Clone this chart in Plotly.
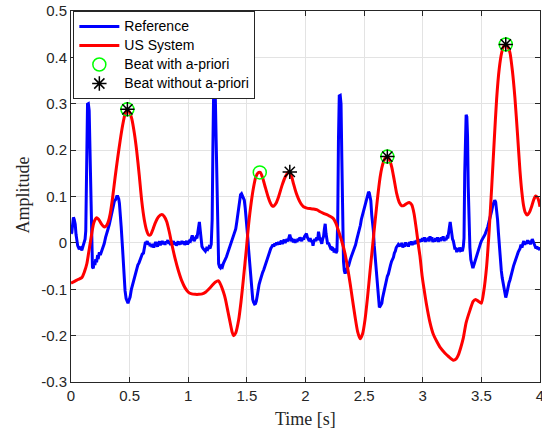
import plotly.graph_objects as go

# ---------------- data ----------------
ref_t = [0.000, 0.007, 0.014, 0.021, 0.028, 0.036, 0.043, 0.050, 0.057, 0.064, 0.071, 0.078, 0.085, 0.092, 0.099,
         0.106, 0.113, 0.120, 0.126, 0.132, 0.137, 0.141, 0.148, 0.155, 0.162, 0.169, 0.176, 0.183, 0.190, 0.197,
         0.204, 0.211, 0.218, 0.225, 0.234, 0.242, 0.250, 0.262, 0.272, 0.283, 0.295, 0.305, 0.316, 0.327, 0.338,
         0.348, 0.360, 0.370, 0.380, 0.390, 0.399, 0.407, 0.413, 0.419, 0.428, 0.439, 0.450, 0.461, 0.470, 0.478,
         0.486, 0.494, 0.504, 0.515, 0.525, 0.532, 0.540, 0.550, 0.560, 0.570, 0.580, 0.589, 0.598, 0.608, 0.618,
         0.627, 0.635, 0.642, 0.650, 0.658, 0.666, 0.674, 0.682, 0.690, 0.698, 0.706, 0.714, 0.722, 0.730, 0.738,
         0.746, 0.754, 0.762, 0.770, 0.778, 0.786, 0.794, 0.802, 0.810, 0.818, 0.826, 0.834, 0.842, 0.850, 0.858,
         0.866, 0.874, 0.882, 0.890, 0.898, 0.906, 0.914, 0.922, 0.930, 0.938, 0.946, 0.954, 0.962, 0.970, 0.978,
         0.986, 0.994, 1.002, 1.010, 1.018, 1.026, 1.034, 1.042, 1.050, 1.058, 1.066, 1.074, 1.082, 1.089, 1.095,
         1.101, 1.108, 1.117, 1.126, 1.136, 1.146, 1.156, 1.166, 1.176, 1.186, 1.196, 1.204, 1.210, 1.216, 1.224,
         1.231, 1.238, 1.245, 1.252, 1.259, 1.267, 1.275, 1.283, 1.291, 1.300, 1.308, 1.316, 1.326, 1.336, 1.346,
         1.356, 1.366, 1.376, 1.386, 1.396, 1.405, 1.414, 1.422, 1.430, 1.438, 1.446, 1.454, 1.462, 1.470, 1.478,
         1.486, 1.494, 1.501, 1.508, 1.515, 1.522, 1.529, 1.536, 1.543, 1.550, 1.557, 1.565, 1.573, 1.580, 1.588,
         1.596, 1.604, 1.614, 1.624, 1.634, 1.644, 1.654, 1.664, 1.674, 1.684, 1.694, 1.704, 1.714, 1.722, 1.730,
         1.738, 1.746, 1.754, 1.762, 1.770, 1.778, 1.786, 1.794, 1.802, 1.810, 1.818, 1.826, 1.834, 1.842, 1.850,
         1.858, 1.866, 1.872, 1.880, 1.888, 1.896, 1.904, 1.912, 1.920, 1.928, 1.936, 1.944, 1.952, 1.960, 1.968,
         1.976, 1.984, 1.992, 2.000, 2.008, 2.016, 2.024, 2.032, 2.040, 2.048, 2.056, 2.064, 2.072, 2.080, 2.088,
         2.096, 2.104, 2.111, 2.118, 2.126, 2.134, 2.139, 2.146, 2.154, 2.161, 2.168, 2.175, 2.182, 2.189, 2.196,
         2.204, 2.212, 2.220, 2.228, 2.236, 2.244, 2.252, 2.260, 2.268, 2.275, 2.281, 2.288, 2.296, 2.303, 2.310,
         2.317, 2.324, 2.331, 2.338, 2.345, 2.352, 2.360, 2.367, 2.374, 2.381, 2.390, 2.399, 2.409, 2.418, 2.427,
         2.436, 2.445, 2.452, 2.460, 2.468, 2.476, 2.484, 2.492, 2.500, 2.508, 2.516, 2.524, 2.532, 2.538, 2.544,
         2.551, 2.557, 2.565, 2.572, 2.579, 2.586, 2.594, 2.601, 2.608, 2.615, 2.622, 2.630, 2.638, 2.645, 2.651,
         2.658, 2.666, 2.674, 2.682, 2.690, 2.698, 2.707, 2.716, 2.725, 2.734, 2.742, 2.750, 2.758, 2.766, 2.774,
         2.782, 2.790, 2.798, 2.806, 2.814, 2.822, 2.830, 2.838, 2.846, 2.854, 2.862, 2.870, 2.878, 2.886, 2.894,
         2.902, 2.910, 2.918, 2.926, 2.934, 2.942, 2.950, 2.958, 2.966, 2.974, 2.982, 2.990, 2.998, 3.006, 3.014,
         3.022, 3.030, 3.038, 3.046, 3.054, 3.062, 3.070, 3.078, 3.086, 3.094, 3.102, 3.110, 3.118, 3.126, 3.134,
         3.142, 3.150, 3.158, 3.166, 3.174, 3.182, 3.190, 3.198, 3.206, 3.214, 3.222, 3.228, 3.234, 3.240, 3.247,
         3.254, 3.261, 3.268, 3.275, 3.282, 3.290, 3.298, 3.306, 3.314, 3.322, 3.330, 3.338, 3.346, 3.352, 3.358,
         3.364, 3.370, 3.376, 3.382, 3.388, 3.395, 3.402, 3.410, 3.418, 3.425, 3.431, 3.438, 3.446, 3.454, 3.462,
         3.470, 3.478, 3.486, 3.494, 3.502, 3.510, 3.518, 3.526, 3.534, 3.545, 3.555, 3.565, 3.575, 3.588, 3.598,
         3.606, 3.614, 3.622, 3.630, 3.638, 3.646, 3.654, 3.662, 3.670, 3.678, 3.687, 3.694, 3.701, 3.708, 3.716,
         3.722, 3.729, 3.736, 3.744, 3.751, 3.758, 3.766, 3.774, 3.782, 3.790, 3.798, 3.806, 3.814, 3.822, 3.830,
         3.838, 3.846, 3.854, 3.862, 3.870, 3.878, 3.886, 3.894, 3.902, 3.910, 3.918, 3.926, 3.934, 3.942, 3.950,
         3.958, 3.966, 3.974, 3.982, 3.990, 4.000]
ref_v = [0.020, 0.022, 0.040, 0.055, 0.050, 0.040, 0.018, 0.001, -0.006, -0.010, -0.008, -0.014, -0.012, -0.016, -0.010,
         -0.008, -0.002, 0.008, 0.026, 0.120, 0.250, 0.299, 0.300, 0.285, 0.200, 0.113, 0.020, -0.052, -0.055, -0.040,
         -0.048, -0.035, -0.042, -0.030, -0.031, -0.020, -0.026, -0.018, -0.008, -0.002, 0.012, 0.019, 0.030, 0.040, 0.052,
         0.062, 0.080, 0.090, 0.093, 0.100, 0.100, 0.095, 0.085, 0.070, 0.035, -0.009, -0.060, -0.103, -0.120, -0.126,
         -0.130, -0.124, -0.117, -0.100, -0.090, -0.088, -0.075, -0.068, -0.060, -0.048, -0.043, -0.036, -0.028, -0.024, -0.022,
         -0.010, 0.002, -0.002, 0.004, -0.004, 0.000, -0.007, -0.003, -0.009, -0.002, -0.010, -0.005, 0.002, -0.004, -0.008,
         -0.001, 0.003, -0.005, 0.001, 0.004, -0.003, 0.002, -0.004, 0.003, 0.000, 0.006, -0.002, 0.003, -0.005, 0.002,
         -0.003, 0.004, -0.004, 0.001, -0.006, 0.000, 0.003, -0.004, 0.002, -0.003, 0.004, -0.002, 0.003, -0.004, 0.000,
         0.004, -0.003, 0.002, 0.004, 0.003, 0.010, 0.016, 0.010, 0.004, 0.008, 0.012, 0.010, 0.022, 0.040, 0.045,
         0.030, 0.010, -0.008, -0.012, -0.016, -0.018, -0.012, -0.014, -0.009, -0.012, -0.003, 0.050, 0.200, 0.317, 0.318,
         0.313, 0.220, 0.113, 0.020, -0.045, -0.052, -0.054, -0.050, -0.052, -0.044, -0.040, -0.038, -0.030, -0.022, -0.015,
         -0.008, 0.000, 0.006, 0.014, 0.022, 0.030, 0.045, 0.060, 0.070, 0.085, 0.104, 0.106, 0.100, 0.097, 0.092,
         0.075, 0.055, 0.041, 0.010, -0.015, -0.040, -0.060, -0.090, -0.110, -0.122, -0.128, -0.132, -0.131, -0.126, -0.115,
         -0.100, -0.090, -0.081, -0.070, -0.064, -0.058, -0.050, -0.042, -0.036, -0.030, -0.020, -0.012, -0.008, -0.004, -0.008,
         -0.001, -0.005, 0.001, -0.004, 0.002, -0.003, 0.000, 0.005, -0.002, 0.003, 0.007, 0.000, 0.004, 0.008, 0.003,
         0.010, 0.018, 0.012, 0.004, 0.006, 0.002, 0.008, 0.000, 0.006, 0.002, 0.009, 0.005, 0.012, 0.008, 0.004,
         0.011, 0.007, 0.014, 0.018, 0.020, 0.012, 0.008, 0.004, 0.010, 0.002, 0.006, -0.006, 0.004, 0.008, 0.004,
         0.012, 0.006, 0.024, 0.014, 0.006, 0.002, -0.002, 0.008, 0.014, 0.030, 0.041, 0.020, 0.006, -0.003, 0.000,
         -0.006, -0.010, -0.008, -0.016, -0.014, -0.020, -0.012, -0.022, -0.018, 0.050, 0.220, 0.317, 0.318, 0.300, 0.180,
         0.050, -0.040, -0.060, -0.066, -0.062, -0.055, -0.052, -0.050, -0.040, -0.037, -0.030, -0.024, -0.020, -0.010, -0.004,
         0.006, 0.014, 0.024, 0.030, 0.038, 0.050, 0.058, 0.066, 0.075, 0.084, 0.092, 0.100, 0.108, 0.110, 0.108,
         0.100, 0.091, 0.060, 0.045, 0.026, -0.005, -0.030, -0.050, -0.080, -0.110, -0.132, -0.139, -0.136, -0.134, -0.130,
         -0.118, -0.108, -0.098, -0.092, -0.080, -0.072, -0.067, -0.055, -0.048, -0.040, -0.036, -0.031, -0.022, -0.018, -0.010,
         -0.006, -0.004, -0.008, -0.002, -0.007, 0.000, -0.010, -0.004, -0.008, 0.001, -0.006, -0.002, -0.008, 0.002, -0.004,
         0.003, -0.005, 0.002, -0.003, 0.004, -0.002, 0.006, 0.001, 0.007, 0.002, 0.008, 0.003, 0.010, 0.004, 0.012,
         0.002, 0.009, 0.004, 0.011, 0.003, 0.014, 0.006, 0.012, 0.002, 0.008, 0.003, 0.010, 0.004, 0.012, 0.002,
         0.010, 0.004, 0.012, 0.006, 0.014, 0.004, 0.010, 0.006, 0.012, 0.010, 0.022, 0.040, 0.045, 0.034, 0.018,
         0.008, 0.004, -0.008, -0.014, -0.010, -0.020, -0.012, -0.018, -0.010, -0.016, -0.014, -0.018, -0.008, 0.010, 0.150,
         0.265, 0.276, 0.272, 0.230, 0.120, 0.026, -0.010, -0.036, -0.046, -0.052, -0.052, -0.046, -0.038, -0.032, -0.024,
         -0.016, -0.010, -0.006, 0.000, 0.005, 0.010, 0.012, 0.016, 0.020, 0.026, 0.035, 0.046, 0.055, 0.069, 0.082,
         0.090, 0.092, 0.088, 0.072, 0.050, 0.020, -0.015, -0.040, -0.060, -0.076, -0.088, -0.100, -0.115, -0.118, -0.110,
         -0.100, -0.096, -0.086, -0.080, -0.072, -0.067, -0.058, -0.050, -0.044, -0.036, -0.032, -0.026, -0.020, -0.016, -0.012,
         -0.004, -0.010, -0.002, 0.004, -0.004, 0.002, -0.002, 0.006, -0.001, 0.004, -0.003, 0.002, 0.008, 0.003, -0.002,
         -0.006, -0.012, -0.008, -0.014, -0.010, -0.016]

us_t = [0.000, 0.030, 0.060, 0.092, 0.115, 0.135, 0.150, 0.163, 0.178, 0.192, 0.205, 0.218, 0.235, 0.262, 0.285,
        0.305, 0.320, 0.334, 0.355, 0.376, 0.398, 0.419, 0.440, 0.461, 0.481, 0.500, 0.518, 0.540, 0.560, 0.582,
        0.603, 0.625, 0.646, 0.662, 0.680, 0.700, 0.717, 0.745, 0.774, 0.795, 0.816, 0.838, 0.859, 0.888, 0.916,
        0.945, 0.973, 1.000, 1.030, 1.060, 1.089, 1.120, 1.150, 1.174, 1.200, 1.230, 1.259, 1.280, 1.300, 1.316,
        1.340, 1.359, 1.375, 1.387, 1.405, 1.430, 1.450, 1.472, 1.495, 1.515, 1.537, 1.557, 1.575, 1.595, 1.614,
        1.635, 1.657, 1.680, 1.699, 1.715, 1.728, 1.750, 1.770, 1.800, 1.827, 1.848, 1.865, 1.883, 1.898, 1.920,
        1.940, 1.960, 1.983, 2.012, 2.040, 2.068, 2.100, 2.125, 2.160, 2.196, 2.220, 2.239, 2.260, 2.281, 2.310,
        2.338, 2.360, 2.381, 2.400, 2.423, 2.445, 2.466, 2.487, 2.508, 2.530, 2.551, 2.573, 2.594, 2.615, 2.636,
        2.650, 2.664, 2.680, 2.698, 2.715, 2.736, 2.757, 2.778, 2.800, 2.821, 2.842, 2.864, 2.885, 2.906, 2.925,
        2.945, 2.963, 2.977, 2.994, 3.010, 3.030, 3.062, 3.090, 3.119, 3.150, 3.190, 3.220, 3.261, 3.285, 3.303,
        3.325, 3.346, 3.370, 3.403, 3.430, 3.451, 3.475, 3.500, 3.520, 3.545, 3.566, 3.588, 3.610, 3.630, 3.652,
        3.673, 3.690, 3.708, 3.726, 3.744, 3.765, 3.786, 3.808, 3.829, 3.845, 3.860, 3.875, 3.890, 3.910, 3.928,
        3.945, 3.962, 3.978, 3.990, 4.000]
us_v = [-0.087, -0.083, -0.079, -0.075, -0.062, -0.045, -0.022, -0.002, 0.022, 0.041, 0.050, 0.054, 0.051, 0.040, 0.034,
        0.038, 0.047, 0.062, 0.098, 0.141, 0.183, 0.220, 0.253, 0.278, 0.288, 0.282, 0.268, 0.237, 0.199, 0.146,
        0.091, 0.050, 0.026, 0.017, 0.018, 0.030, 0.042, 0.056, 0.061, 0.057, 0.046, 0.024, -0.002, -0.034, -0.060,
        -0.082, -0.097, -0.106, -0.110, -0.111, -0.111, -0.110, -0.106, -0.100, -0.093, -0.085, -0.082, -0.092, -0.106, -0.120,
        -0.150, -0.174, -0.193, -0.200, -0.194, -0.166, -0.127, -0.074, -0.015, 0.040, 0.087, 0.120, 0.141, 0.151, 0.152,
        0.140, 0.120, 0.100, 0.087, 0.080, 0.079, 0.086, 0.099, 0.124, 0.142, 0.151, 0.153, 0.142, 0.127, 0.108,
        0.095, 0.085, 0.078, 0.075, 0.074, 0.073, 0.071, 0.067, 0.063, 0.059, 0.056, 0.052, 0.042, 0.026, 0.003,
        -0.024, -0.055, -0.088, -0.121, -0.160, -0.192, -0.207, -0.196, -0.165, -0.115, -0.060, -0.005, 0.048, 0.098, 0.141,
        0.161, 0.174, 0.183, 0.186, 0.180, 0.163, 0.135, 0.106, 0.087, 0.080, 0.081, 0.085, 0.087, 0.082, 0.064,
        0.030, -0.005, -0.030, -0.070, -0.098, -0.130, -0.172, -0.197, -0.212, -0.226, -0.238, -0.245, -0.253, -0.250, -0.242,
        -0.225, -0.205, -0.172, -0.145, -0.126, -0.122, -0.126, -0.130, -0.105, -0.050, 0.025, 0.120, 0.222, 0.310, 0.375,
        0.410, 0.424, 0.428, 0.423, 0.410, 0.370, 0.313, 0.235, 0.156, 0.110, 0.080, 0.065, 0.060, 0.066, 0.078,
        0.092, 0.101, 0.098, 0.090, 0.078]

apriori_t = [0.481, 1.610, 2.698, 3.708]
apriori_v = [0.288, 0.152, 0.186, 0.428]
noprior_t = [0.481, 1.866, 2.698, 3.708]
noprior_v = [0.288, 0.153, 0.186, 0.428]

series_names = ["Reference", "US System", "Beat with a-priori", "Beat without a-priori"]

x_ticks = [0, 0.5, 1, 1.5, 2, 2.5, 3, 3.5, 4]
x_labels = ["0", "0.5", "1", "1.5", "2", "2.5", "3", "3.5", "4"]
y_ticks = [-0.3, -0.2, -0.1, 0, 0.1, 0.2, 0.3, 0.4, 0.5]
y_labels = ["-0.3", "-0.2", "-0.1", "0", "0.1", "0.2", "0.3", "0.4", "0.5"]


def legend_name(s):
    # keep 14px text while the legend rows use a tighter line pitch
    return "<span style='font-size:14px'>" + s + "</span>"


# ---------------- figure ----------------
fig = go.Figure()
fig.add_trace(go.Scatter(x=ref_t, y=ref_v, mode="lines", name=legend_name(series_names[0]),
                         line=dict(color="#0000ff", width=3)))
fig.add_trace(go.Scatter(x=us_t, y=us_v, mode="lines", name=legend_name(series_names[1]),
                         line=dict(color="#ff0000", width=3, shape="spline", smoothing=0.6)))
fig.add_trace(go.Scatter(x=apriori_t, y=apriori_v, mode="markers", name=legend_name(series_names[2]),
                         marker=dict(symbol="circle-open", size=13, color="#00ff00",
                                     line=dict(color="#00ff00", width=1.5))))
fig.add_trace(go.Scatter(x=noprior_t, y=noprior_v, mode="markers", name=legend_name(series_names[3]),
                         marker=dict(symbol="asterisk-open", size=12, color="#000000",
                                     line=dict(color="#000000", width=1.5))))

axis_common = dict(showgrid=True, gridcolor="#e3e3e3", gridwidth=1, automargin=False,
                   showline=True, linecolor="#262626", linewidth=1, mirror="ticks",
                   ticks="inside", ticklen=5, tickcolor="#262626", zeroline=False,
                   ticklabeloverflow="allow",
                   tickfont=dict(family="Liberation Sans, Arial, sans-serif", size=15, color="#262626"))

fig.update_layout(
    template="none",
    width=542, height=428,
    margin=dict(l=70.5, r=2, t=11, b=46, autoexpand=False),
    paper_bgcolor="white", plot_bgcolor="white",
    showlegend=True,
    legend=dict(x=0.005, y=1, xanchor="left", yanchor="top",
                bgcolor="white", bordercolor="#262626", borderwidth=1,
                font=dict(family="Liberation Sans, Arial, sans-serif", size=11, color="#000000"),
                tracegroupgap=0, itemwidth=40),
    xaxis=dict(range=[0, 4], tickvals=x_ticks, ticktext=x_labels, **axis_common),
    yaxis=dict(range=[-0.3, 0.5], tickvals=y_ticks, ticktext=y_labels, **axis_common),
    annotations=[
        dict(text="Time [s]", xref="paper", yref="paper", x=0.5005, y=-0.0997,
             xanchor="center", yanchor="middle", showarrow=False,
             font=dict(family="Liberation Serif, Times New Roman, serif", size=18, color="#262626")),
        dict(text="Amplitude", xref="paper", yref="paper", x=-0.1033, y=0.504,
             xanchor="center", yanchor="middle", showarrow=False, textangle=-90,
             font=dict(family="Liberation Serif, Times New Roman, serif", size=18, color="#262626")),
    ],
)

fig.write_html("out.html", config={"displayModeBar": False},
               post_script="document.body.style.margin='0';document.body.style.overflow='hidden';")
